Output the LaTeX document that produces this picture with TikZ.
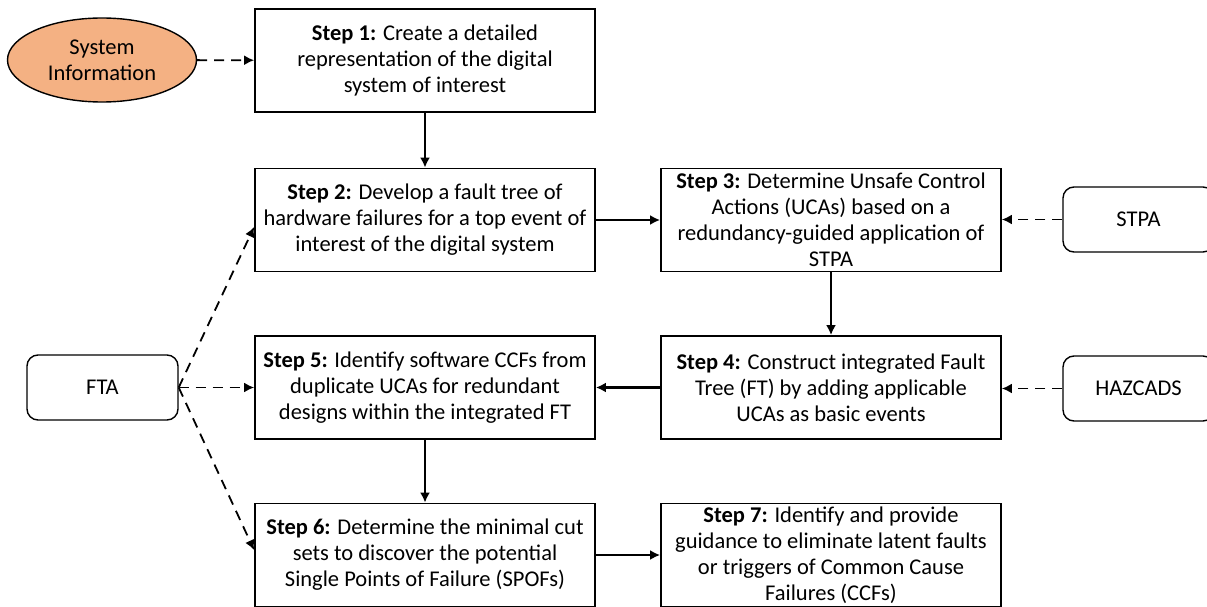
\documentclass[tikz,border=0pt]{standalone}
\usepackage{fontspec}
\setmainfont{Carlito}
\usetikzlibrary{arrows.meta,shapes.geometric}
\definecolor{infofill}{RGB}{244,177,131}
\tikzset{
  txt/.style={font=\fontsize{22.5}{26}\selectfont},
  stepbox/.style={txt, draw=black, line width=1.8pt, fill=white, minimum width=340pt, minimum height=103pt,
    align=center, inner sep=0pt},
  toolbox/.style={txt, draw=black, line width=1.4pt, rounded corners=11pt, minimum width=151pt, minimum height=65pt},
  flow/.style={line width=2.4pt, -{Latex[length=10pt,width=10pt]}},
  feed/.style={line width=1.8pt, dash pattern=on 10pt off 7pt, -{Latex[length=10pt,width=10pt]}},
}
\begin{document}
\begin{tikzpicture}[x=1pt,y=-1pt]
\useasboundingbox (0,0) rectangle (1207,607);
% input source
\node[txt, ellipse, draw=black, line width=1.4pt, fill=infofill, minimum width=189pt, minimum height=84pt,
  align=center, inner sep=0pt] (info) at (102,60) {System\\Information};
% method steps
\node[stepbox] (s1) at (425,60.5) {\textbf{Step 1:} Create a detailed\\representation of the digital\\system of interest};
\node[stepbox] (s2) at (425,220) {\textbf{Step 2:} Develop a fault tree of\\hardware failures for a top event of\\interest of the digital system};
\node[stepbox] (s3) at (831,220) {\textbf{Step 3:} Determine Unsafe Control\\Actions (UCAs) based on a\\redundancy-guided application of\\STPA};
\node[stepbox] (s4) at (831,387.5) {\textbf{Step 4:} Construct integrated Fault\\Tree (FT) by adding applicable\\UCAs as basic events};
\node[stepbox] (s5) at (425,387.5) {\textbf{Step 5:} Identify software CCFs from\\duplicate UCAs for redundant\\designs within the integrated FT};
\node[stepbox] (s6) at (425,555) {\textbf{Step 6:} Determine the minimal cut\\sets to discover the potential\\Single Points of Failure (SPOFs)};
\node[stepbox] (s7) at (831,555) {\textbf{Step 7:} Identify and provide\\guidance to eliminate latent faults\\or triggers of Common Cause\\Failures (CCFs)};
% supporting analyses
\node[toolbox] (fta) at (102.5,387.5) {FTA};
\node[toolbox] (stpa) at (1138.5,219.5) {STPA};
\node[toolbox] (haz) at (1138.5,388.5) {HAZCADS};
% main flow
\draw[flow] (s1) -- (s2);
\draw[flow] (s2) -- (s3);
\draw[flow] (s3) -- (s4);
\draw[flow] (s4) -- (s5);
\draw[flow] (s5) -- (s6);
\draw[flow] (s6) -- (s7);
% dashed inputs
\draw[feed] (info) -- (s1);
\draw[feed] (stpa) -- (stpa -| s3.east);
\draw[feed] (haz) -- (haz -| s4.east);
\draw[feed] (fta.east) -- (s5.west |- fta.east);
\draw[feed] (fta.east) -- ([yshift=-7pt]s2.west);
\draw[feed] (fta.east) -- ([yshift=5pt]s6.west);
\end{tikzpicture}
\end{document}
